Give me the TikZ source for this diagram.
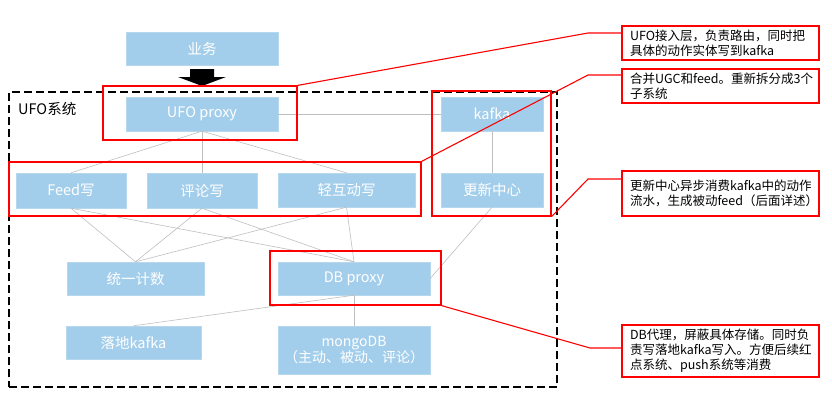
\documentclass[tikz,border=0pt]{standalone}
\usepackage{fontspec}
\setmainfont{Noto Sans CJK SC}
\begin{document}
\begin{tikzpicture}[x=1pt,y=-1pt,
  bx/.style={rectangle, fill=boxblue, draw=boxblue!80!white, line width=0.4pt, inner sep=0pt, text=white, font=\fontsize{14.5}{16}\selectfont, align=center},
  rb/.style={rectangle, draw=red, line width=1.2pt, inner sep=0pt},
  callout/.style={rectangle, draw=red, line width=1.2pt, inner xsep=8pt, inner ysep=0pt, text width=181pt, align=left, font=\fontsize{12.5}{15}\selectfont, text=black},
  link/.style={draw=linegray, line width=0.6pt},
  redline/.style={draw=red, line width=1.1pt}]
\definecolor{boxblue}{HTML}{A3CEEB}
\definecolor{linegray}{HTML}{BFBFBF}
\useasboundingbox[fill=white] (0,0) rectangle (832,404);

% blue boxes
\node[bx, minimum width=152pt, minimum height=33pt] (ywu) at (202,48.5) {业务};
\node[bx, minimum width=152pt, minimum height=34pt] (ufo) at (202,114) {UFO proxy};
\node[bx, minimum width=102pt, minimum height=34pt] (kafka) at (492,114) {kafka};
\node[bx, minimum width=110pt, minimum height=35pt] (feed) at (71,190.5) {Feed写};
\node[bx, minimum width=110pt, minimum height=35pt] (pl) at (202,190.5) {评论写};
\node[bx, minimum width=137pt, minimum height=34pt] (qhd) at (346.5,190) {轻互动写};
\node[bx, minimum width=102pt, minimum height=34pt] (gx) at (492,190) {更新中心};
\node[bx, minimum width=137pt, minimum height=33pt] (tj) at (135.5,278.5) {统一计数};
\node[bx, minimum width=152pt, minimum height=33pt] (db) at (354,278.5) {DB proxy};
\node[bx, minimum width=135pt, minimum height=33pt] (ld) at (133.5,342.5) {落地kafka};
\node[bx, minimum width=152pt, minimum height=48pt, font=\fontsize{14}{15}\selectfont] (mg) at (354,350) {mongoDB\\（主动、被动、评论）};

% gray connectors
\path[link] (ufo.east) -- (kafka.west);
\path[link] (ufo.south) -- (feed.north);
\path[link] (ufo.south) -- (pl.north);
\path[link] (ufo.south) -- (qhd.north);
\path[link] (kafka.south) -- (gx.north);
\path[link] (feed.south) -- (tj.north);
\path[link] (feed.south) -- (db.north);
\path[link] (pl.south) -- (tj.north);
\path[link] (pl.south) -- (db.north);
\path[link] (qhd.south) -- (tj.north);
\path[link] (qhd.south) -- (db.north);
\path[link] (gx.south) -- (db.east);
\path[link] (db.south) -- (mg.north);
\path[link] (db.south) -- (ld.north);

% block arrow 业务 -> UFO proxy
\fill[black] (190,69) -- (214,69) -- (214,77) -- (226,77) -- (202,86) -- (178,77) -- (190,77) -- cycle;

% dashed system boundary
\node[rectangle, draw=black, line width=2.6pt, dash pattern=on 8pt off 4pt, minimum width=548pt, minimum height=295pt, inner sep=0pt] (sys) at (283,239.5) {};
\node[anchor=west, inner sep=0pt, font=\fontsize{14.5}{16}\selectfont] (syslbl) at (18,109) {UFO系统};

% red highlight boxes
\node[rb, minimum width=194pt, minimum height=54pt] (r1) at (200,113) {};
\node[rb, minimum width=412pt, minimum height=54pt] (r2) at (215,189) {};
\node[rb, minimum width=119pt, minimum height=125pt] (r3) at (491.5,153.5) {};
\node[rb, minimum width=171pt, minimum height=54pt] (r4) at (355.5,278) {};

% callouts
\node[callout, minimum height=34pt] (c1) at (720.5,43) {UFO接入层，负责路由，同时把\\具体的动作实体写到kafka};
\node[callout, minimum height=34pt] (c2) at (720.5,86) {合并UGC和feed。重新拆分成3个\\子系统};
\node[callout, minimum height=45pt] (c3) at (720.5,193.5) {更新中心异步消费kafka中的动作\\流水，生成被动feed（后面详述）};
\node[callout, minimum height=52pt] (c4) at (720.5,351) {DB代理，屏蔽具体存储。同时负\\责写落地kafka写入。方便后续红\\点系统、push系统等消费};

\coordinate (k1) at (588,33);
\coordinate (k2) at (588,75);
\coordinate (k3) at (588,179);
\coordinate (k4) at (590,348);
\path[redline] (r1.north east) -- (k1) -- (k1 -| c1.west);
\path[redline] (r2.north east) -- (k2) -- (k2 -| c2.west);
\path[redline] (r3.south east) -- (k3) -- (k3 -| c3.west);
\path[redline] (r4.south east) -- (k4) -- (k4 -| c4.west);
\end{tikzpicture}
\end{document}
